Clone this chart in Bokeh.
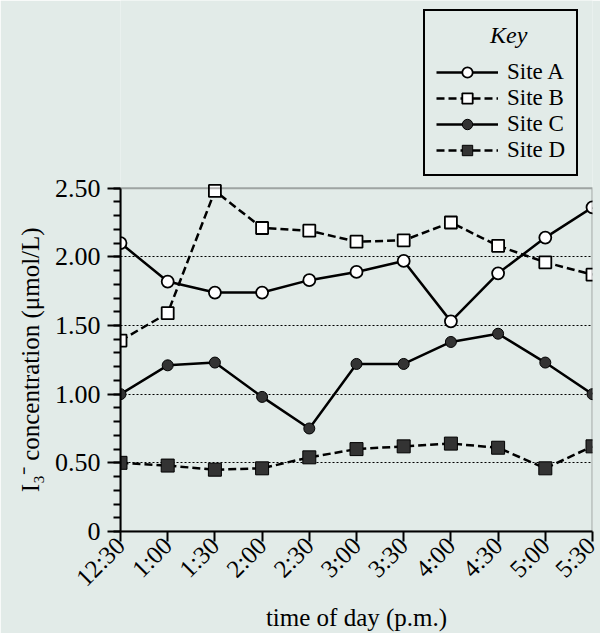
import numpy as np
from bokeh.plotting import figure
from bokeh.models import Range1d, FixedTicker, Legend, LegendItem, BoxAnnotation
from bokeh.embed import file_html
from bokeh.resources import INLINE

times = ["12:30", "1:00", "1:30", "2:00", "2:30", "3:00", "3:30", "4:00", "4:30", "5:00", "5:30"]
site_a = [2.10, 1.82, 1.74, 1.74, 1.83, 1.89, 1.97, 1.53, 1.88, 2.14, 2.36]
site_b = [1.39, 1.59, 2.48, 2.21, 2.19, 2.11, 2.12, 2.25, 2.08, 1.96, 1.87]
site_c = [1.00, 1.21, 1.23, 0.98, 0.75, 1.22, 1.22, 1.38, 1.44, 1.23, 1.00]
site_d = [0.50, 0.48, 0.45, 0.46, 0.54, 0.60, 0.62, 0.64, 0.61, 0.46, 0.62]
y_ticks = [0, 0.5, 1.0, 1.5, 2.0, 2.5]
y_tick_labels = ["0", "0.50", "1.00", "1.50", "2.00", "2.50"]

x = list(range(len(times)))
BG = "#e2ebe8"
FONT = "'Liberation Serif'"
DARK = "#333333"

# layout (pixels): plotting box from y=188 to y=532; the frame extends to the top
# of the canvas so that the key can sit above the plotting box.
H, BOX_TOP, BOX_BOTTOM = 633, 188, 532
y_max = y_ticks[-1]
y_top = y_max * BOX_BOTTOM / (BOX_BOTTOM - BOX_TOP)

p = figure(width=600, height=H, output_backend="svg", toolbar_location=None,
           x_range=Range1d(0, len(times) - 1), y_range=Range1d(0, y_top),
           min_border_left=120, min_border_top=0, min_border_bottom=H - BOX_BOTTOM,
           min_border_right=8)
p.background_fill_color = BG
p.border_fill_color = BG
p.outline_line_color = None

box = BoxAnnotation(left=0, right=len(times) - 1, bottom=0, top=y_max,
                    fill_alpha=0, line_color="black", line_width=2, level="overlay")
p.add_layout(box)

# axes
p.xaxis.ticker = FixedTicker(ticks=x)
p.xaxis.major_label_overrides = {i: t for i, t in enumerate(times)}
p.xaxis.major_label_orientation = np.pi / 4
p.yaxis.ticker = FixedTicker(ticks=y_ticks, minor_ticks=list(np.round(np.arange(0, 2.51, 0.1), 2)))
p.yaxis.major_label_overrides = {v: s for v, s in zip(y_ticks, y_tick_labels)}
p.yaxis.bounds = (0, y_max)
for ax in (p.xaxis, p.yaxis):
    ax.axis_line_width = 2
    ax.axis_line_color = "black"
    ax.major_tick_line_width = 2
    ax.major_tick_line_color = "black"
    ax.major_tick_in = 0
    ax.major_label_text_font = FONT
    ax.major_label_text_color = "black"
    ax.major_label_text_line_height = 1.0
    ax.axis_label_text_font = FONT
    ax.axis_label_text_font_size = "25px"
    ax.axis_label_text_font_style = "normal"
    ax.axis_label_text_color = "black"
    ax.axis_label_text_line_height = 0.75
p.xaxis.major_label_text_font_size = "25px"
p.yaxis.major_label_text_font_size = "26px"
p.xaxis.major_tick_out = 10
p.xaxis.major_label_standoff = 0
p.xaxis.minor_tick_line_color = None
p.yaxis.major_tick_out = 13
p.yaxis.major_label_standoff = 7
p.yaxis.minor_tick_out = 7
p.yaxis.minor_tick_in = 0
p.yaxis.minor_tick_line_width = 2
p.yaxis.minor_tick_line_color = "black"
p.xaxis.axis_label = "time of day (p.m.)"
# trailing em spaces centre the visible label on the plotting box (the frame is taller)
p.yaxis.axis_label = "I\u2083\u207b concentration (\u03bcmol/L)" + "\u2003" * 7 + "\u2002"
p.xaxis.axis_label_standoff = 0
p.yaxis.axis_label_standoff = 8

# grid
p.xgrid.grid_line_color = None
p.ygrid.ticker = FixedTicker(ticks=y_ticks[1:-1])
p.ygrid.grid_line_color = "black"
p.ygrid.grid_line_dash = "2 2"
p.ygrid.grid_line_width = 1.2

# series
la = p.line(x, site_a, line_color="black", line_width=2.5)
lb = p.line(x, site_b, line_color="black", line_width=2.5, line_dash="8 4")
lc = p.line(x, site_c, line_color="black", line_width=2.5)
ld = p.line(x, site_d, line_color="black", line_width=2.5, line_dash="8 4")
ma = p.scatter(x, site_a, marker="circle", size=12, fill_color="white", line_color="black", line_width=1.8)
mb = p.scatter(x, site_b, marker="square", size=12, fill_color="white", line_color="black", line_width=1.8)
mc = p.scatter(x, site_c, marker="circle", size=11, fill_color=DARK, line_color="black", line_width=1)
md = p.scatter(x, site_d, marker="square", size=13, fill_color=DARK, line_color="black", line_width=1)

legend = Legend(items=[
    LegendItem(label="Site A", renderers=[la, ma]),
    LegendItem(label="Site B", renderers=[lb, mb]),
    LegendItem(label="Site C", renderers=[lc, mc]),
    LegendItem(label="Site D", renderers=[ld, md]),
], location=(303, 355))
legend.title = "\u00a0" * 9 + "Key"
legend.title_text_font = FONT
legend.title_text_font_style = "italic"
legend.title_text_font_size = "24px"
legend.title_text_color = "black"
legend.title_standoff = 10
legend.label_text_font = FONT
legend.label_text_font_size = "23px"
legend.label_text_color = "black"
legend.label_standoff = 9
legend.glyph_width = 62
legend.glyph_height = 26
legend.spacing = 0
legend.padding = 11
legend.margin = 0
legend.border_line_color = "black"
legend.border_line_alpha = 1
legend.border_line_width = 2
legend.background_fill_color = BG
legend.background_fill_alpha = 1
p.add_layout(legend, "center")

open("out.html", "w").write(file_html(p, INLINE))
